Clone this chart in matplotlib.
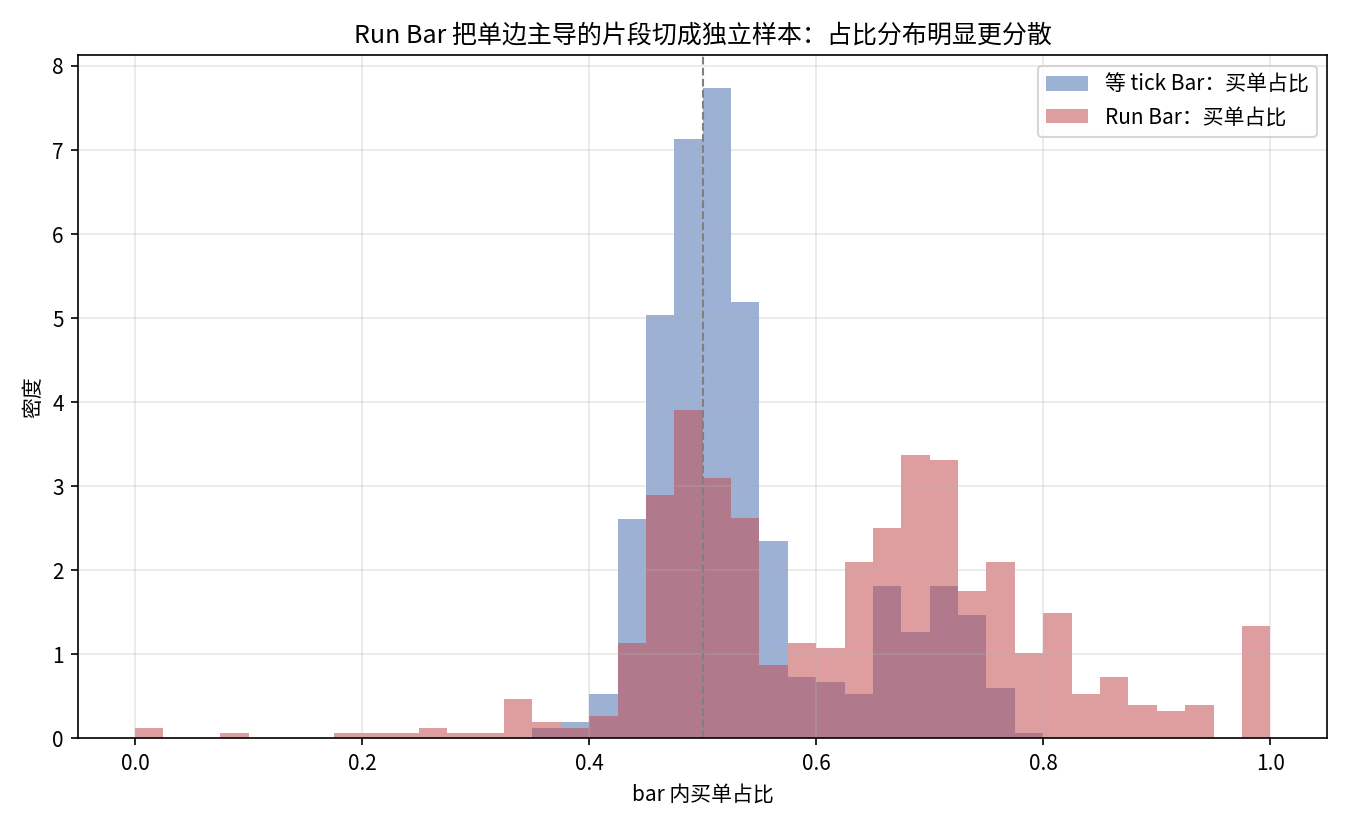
import numpy as np
import matplotlib
matplotlib.use("Agg")
import matplotlib.pyplot as plt

plt.rcParams['font.family'] = ['Noto Sans CJK SC', 'DejaVu Sans']
plt.rcParams['axes.unicode_minus'] = False

# 40 equal-width bins on [0, 1]
bin_edges = np.linspace(0, 1, 41)

# density per bin
tick_density = [
    0, 0, 0, 0, 0, 0, 0, 0, 0, 0,
    0, 0, 0, 0, 0.124, 0.195, 0.53, 2.61, 5.04, 7.13,
    7.74, 5.19, 2.35, 0.73, 0.67, 0.53, 1.81, 1.27, 1.81, 1.47,
    0.60, 0.064, 0, 0, 0, 0, 0, 0, 0, 0,
]
run_density = [
    0.124, 0, 0, 0.064, 0, 0, 0, 0.064, 0.064, 0.064,
    0.124, 0.064, 0.064, 0.47, 0.195, 0.124, 0.265, 1.13, 2.90, 3.91,
    3.10, 2.62, 0.87, 1.13, 1.07, 2.10, 2.50, 3.37, 3.31, 1.75,
    2.10, 1.01, 1.49, 0.53, 0.73, 0.40, 0.33, 0.40, 0, 1.34,
]

fig, ax = plt.subplots(figsize=(9, 5.5), dpi=150)

left = bin_edges[:-1]
ax.hist(left, bins=bin_edges, weights=tick_density, alpha=0.55,
        color="#4C72B0", label="等 tick Bar：买单占比")
ax.hist(left, bins=bin_edges, weights=run_density, alpha=0.55,
        color="#C44E52", label="Run Bar：买单占比")

ax.axvline(0.5, color="gray", linestyle="--", linewidth=1)

ax.set_title("Run Bar 把单边主导的片段切成独立样本：占比分布明显更分散", fontsize=12)
ax.set_xlabel("bar 内买单占比")
ax.set_ylabel("密度")
ax.grid(True, alpha=0.3)
ax.legend(loc="upper right")

fig.subplots_adjust(left=0.058, right=0.983, top=0.933, bottom=0.105)
fig.savefig("out.png", dpi=150)
